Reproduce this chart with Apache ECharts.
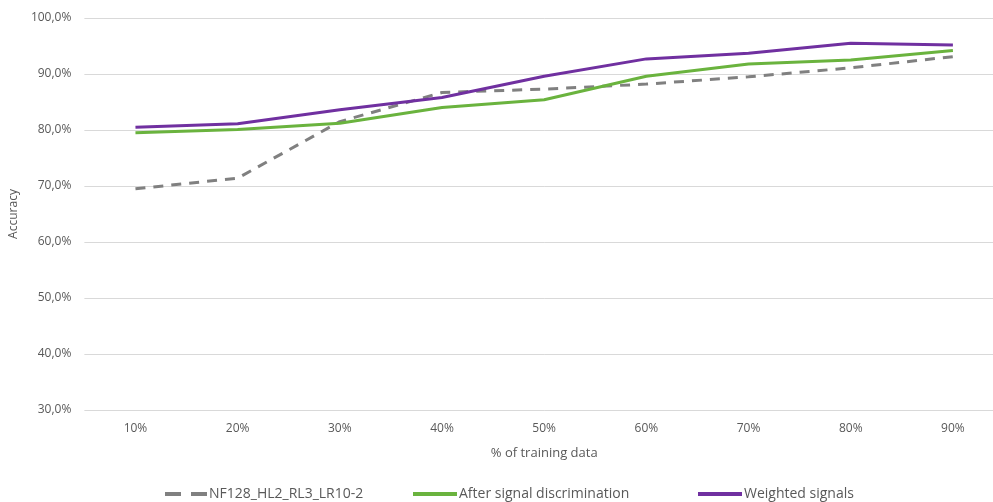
<!DOCTYPE html>
<html><head><meta charset="utf-8">
<script src="https://cdn.jsdelivr.net/npm/echarts@6/dist/echarts.min.js"></script>
<style>html,body{margin:0;padding:0;background:#fff;overflow:hidden}#c{width:1010px;height:502px}</style>
</head><body><div id="c"></div>
<script>
const categories = ['10%','20%','30%','40%','50%','60%','70%','80%','90%'];
const baseline = [69.5, 71.4, 81.5, 86.7, 87.3, 88.2, 89.5, 91.1, 93.1];
const discrimination = [79.5, 80.1, 81.2, 84.0, 85.4, 89.6, 91.8, 92.5, 94.2];
const weighted = [80.5, 81.1, 83.6, 85.8, 89.6, 92.7, 93.7, 95.5, 95.2];
const seriesNames = ['NF128_HL2_RL3_LR10-2', 'After signal discrimination', 'Weighted signals'];

const font = 'Open Sans';
const legendText = {color: '#595959', fontSize: 14, fontFamily: font, padding: [0,0,0,-3]};
const chart = echarts.init(document.getElementById('c'));
chart.setOption({
  animation: false,
  textStyle: {fontFamily: font},
  grid: {left: 84, right: 6, top: 18, bottom: 92},
  xAxis: {
    type: 'category', data: categories,
    name: '% of training data', nameLocation: 'middle', nameGap: 37,
    nameTextStyle: {color: '#595959', fontSize: 13, fontFamily: font},
    axisLine: {show: false}, axisTick: {show: false},
    axisLabel: {color: '#595959', fontSize: 12, margin: 13, fontFamily: font}
  },
  yAxis: {
    type: 'value', min: 30, max: 100, interval: 10,
    name: 'Accuracy', nameLocation: 'middle', nameGap: 64, nameRotate: 90,
    nameTextStyle: {color: '#595959', fontSize: 12, fontFamily: font},
    axisLine: {show: false}, axisTick: {show: false},
    axisLabel: {color: '#595959', fontSize: 12, margin: 13, fontFamily: font,
      formatter: v => v.toFixed(1).replace('.', ',') + '%'},
    splitLine: {lineStyle: {color: '#d9d9d9', width: 1}}
  },
  legend: [
    {top: 482, left: 160, itemWidth: 42, itemHeight: 4, textStyle: legendText,
     data: [{name: seriesNames[0], icon: 'path://M0,0H16V4H0Z M26,0H42V4H26Z', itemStyle: {color: '#808080'}}]},
    {top: 482, left: 408, itemWidth: 44, itemHeight: 4, icon: 'rect', textStyle: legendText,
     data: [{name: seriesNames[1]}]},
    {top: 482, left: 693, itemWidth: 44, itemHeight: 4, icon: 'rect', textStyle: legendText,
     data: [{name: seriesNames[2]}]}
  ],
  series: [
    {name: seriesNames[0], type: 'line', data: baseline, symbol: 'none',
     lineStyle: {color: '#808080', width: 3, type: [10, 8]}, itemStyle: {color: '#808080'}},
    {name: seriesNames[1], type: 'line', data: discrimination, symbol: 'none',
     lineStyle: {color: '#6AB33E', width: 3}, itemStyle: {color: '#6AB33E'}},
    {name: seriesNames[2], type: 'line', data: weighted, symbol: 'none',
     lineStyle: {color: '#7030A0', width: 3}, itemStyle: {color: '#7030A0'}}
  ]
});
</script></body></html>
